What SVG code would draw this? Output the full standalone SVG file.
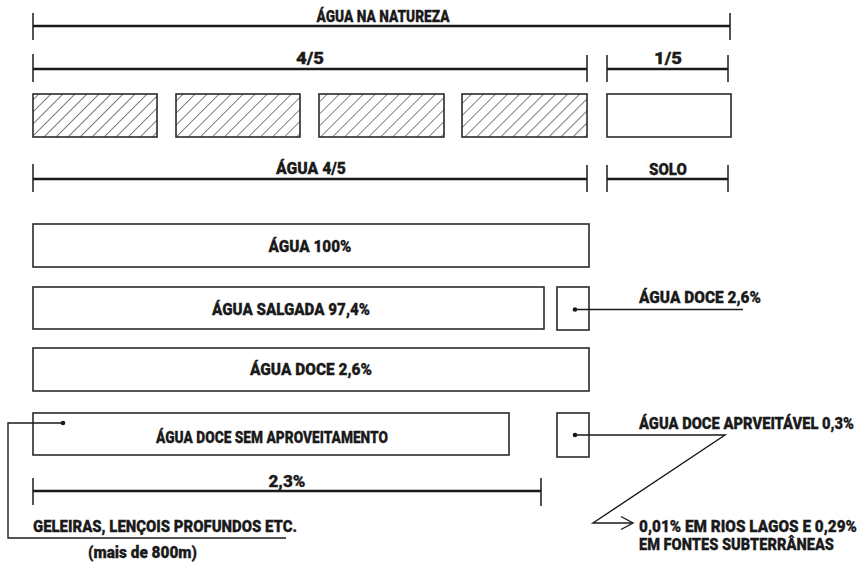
<svg xmlns="http://www.w3.org/2000/svg" width="864" height="567" viewBox="0 0 864 567">
<style>
text{font-family:"Roboto","Liberation Sans",sans-serif;font-weight:900;font-size:17px;fill:#1a1a1a;stroke:#1a1a1a;stroke-width:0.3}
.c{text-anchor:middle}
.dim{stroke:#1a1a1a;stroke-width:2.4;fill:none}
.tick{stroke:#1a1a1a;stroke-width:1.5;fill:none}
.box{stroke:#2a2a2a;stroke-width:1.6;fill:#fff}
.hbox{stroke:#2a2a2a;stroke-width:1.6;fill:url(#hatch)}
.con{stroke:#1a1a1a;stroke-width:1.4;fill:none}
</style>
<defs>
<pattern id="hatch" width="8.5" height="8.5" patternUnits="userSpaceOnUse" patternTransform="rotate(45)">
<rect width="8.5" height="8.5" fill="#fff"/>
<line x1="0" y1="0" x2="0" y2="8.5" stroke="#1a1a1a" stroke-width="1.1"/>
</pattern>
</defs>
<rect width="864" height="567" fill="#fff"/>

<g id="dim-natureza">
<line class="dim" x1="33" y1="26" x2="730" y2="26"/>
<line class="tick" x1="33" y1="13" x2="33" y2="40"/>
<line class="tick" x1="730" y1="13" x2="730" y2="40"/>
<text class="c" x="383" y="22" textLength="133" lengthAdjust="spacingAndGlyphs">ÁGUA NA NATUREZA</text>
</g>
<g id="dim-4-5">
<line class="dim" x1="33" y1="69" x2="587" y2="69"/>
<line class="tick" x1="33" y1="54" x2="33" y2="82"/>
<line class="tick" x1="587" y1="55" x2="587" y2="82"/>
<text class="c" x="310" y="64" textLength="28" lengthAdjust="spacingAndGlyphs">4/5</text>
</g>
<g id="dim-1-5">
<line class="dim" x1="607" y1="69" x2="728" y2="69"/>
<line class="tick" x1="607" y1="55" x2="607" y2="82"/>
<line class="tick" x1="728" y1="55" x2="728" y2="82"/>
<text class="c" x="668" y="64" textLength="28" lengthAdjust="spacingAndGlyphs">1/5</text>
</g>
<g id="hatched-boxes">
<rect class="hbox" x="33" y="94" width="124" height="43"/>
<rect class="hbox" x="176" y="94" width="124" height="43"/>
<rect class="hbox" x="319" y="94" width="125" height="43"/>
<rect class="hbox" x="462" y="94" width="125" height="43"/>
</g>
<g id="solo-box">
<rect class="box" x="607" y="94" width="124" height="43"/>
</g>
<g id="dim-agua-4-5">
<line class="dim" x1="33" y1="179" x2="587" y2="179"/>
<line class="tick" x1="33" y1="164" x2="33" y2="192"/>
<line class="tick" x1="587" y1="165" x2="587" y2="192"/>
<text class="c" x="311" y="174" textLength="70" lengthAdjust="spacingAndGlyphs">ÁGUA 4/5</text>
</g>
<g id="dim-solo">
<line class="dim" x1="607" y1="179" x2="728" y2="179"/>
<line class="tick" x1="607" y1="165" x2="607" y2="192"/>
<line class="tick" x1="728" y1="165" x2="728" y2="192"/>
<text class="c" x="668" y="175" textLength="38" lengthAdjust="spacingAndGlyphs">SOLO</text>
</g>

<g id="agua-100">
<rect class="box" x="33" y="224" width="556" height="43"/>
<text class="c" x="310" y="252" textLength="83" lengthAdjust="spacingAndGlyphs">ÁGUA 100%</text>
</g>
<g id="agua-salgada">
<rect class="box" x="33" y="287" width="511" height="42"/>
<text class="c" x="291" y="315" textLength="158" lengthAdjust="spacingAndGlyphs">ÁGUA SALGADA 97,4%</text>
</g>
<g id="doce-small">
<rect class="box" x="557" y="287" width="32" height="43"/>
<circle cx="575" cy="309.5" r="2.3" fill="#1a1a1a"/>
</g>
<g id="label-doce">
<text x="639" y="303" textLength="122" lengthAdjust="spacingAndGlyphs">ÁGUA DOCE 2,6%</text>
</g>
<g id="agua-doce">
<rect class="box" x="33" y="348" width="556" height="43"/>
<text class="c" x="311" y="375" textLength="122" lengthAdjust="spacingAndGlyphs">ÁGUA DOCE 2,6%</text>
</g>
<g id="doce-sem">
<rect class="box" x="33" y="413" width="476" height="42"/>
<circle cx="63" cy="423" r="2.3" fill="#1a1a1a"/>
<text class="c" x="272" y="443" textLength="232" lengthAdjust="spacingAndGlyphs">ÁGUA DOCE SEM APROVEITAMENTO</text>
</g>
<g id="aproveitavel-small">
<rect class="box" x="557" y="413" width="32" height="44"/>
<circle cx="575" cy="435" r="2.3" fill="#1a1a1a"/>
</g>
<g id="label-aproveitavel">
<text x="639" y="429" textLength="215" lengthAdjust="spacingAndGlyphs">ÁGUA DOCE APRVEITÁVEL 0,3%</text>
</g>
<g id="dim-2-3">
<line class="dim" x1="33" y1="491" x2="541" y2="491"/>
<line class="tick" x1="33" y1="478" x2="33" y2="505"/>
<line class="tick" x1="541" y1="478" x2="541" y2="506"/>
<text class="c" x="287" y="487" textLength="37" lengthAdjust="spacingAndGlyphs">2,3%</text>
</g>
<g id="label-geleiras">
<text x="33" y="532" textLength="264" lengthAdjust="spacingAndGlyphs">GELEIRAS, LENÇOIS PROFUNDOS ETC.</text>
<text x="88" y="558" textLength="109" lengthAdjust="spacingAndGlyphs">(mais de 800m)</text>
</g>
<g id="label-rios">
<text x="639" y="532" textLength="218" lengthAdjust="spacingAndGlyphs">0,01% EM RIOS LAGOS E 0,29%</text>
<text x="639" y="550" textLength="195" lengthAdjust="spacingAndGlyphs">EM FONTES SUBTERRÂNEAS</text>
</g>

<g id="connectors">
<polyline class="con" points="575,309.5 743,309.5"/>
<polyline class="con" points="63,423 8,423 8,538 286,538"/>
<polyline class="con" points="575,435 725,435 593,523 633,523"/>
<polyline class="con" points="621,516.5 633,523 621,529.5"/>
</g>
</svg>
